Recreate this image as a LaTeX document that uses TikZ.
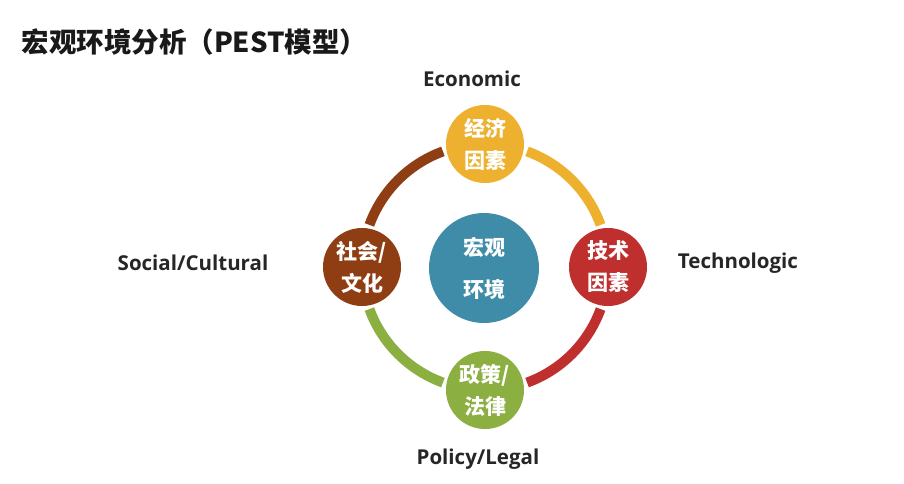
\documentclass[tikz,border=0pt]{standalone}
\usepackage{fontspec}
\setmainfont{Open Sans}
\newfontfamily\cjk{Noto Sans CJK SC}
\usetikzlibrary{calc}
\definecolor{ecoY}{HTML}{EDB12F}
\definecolor{socB}{HTML}{8E3E12}
\definecolor{tecR}{HTML}{BE2F2E}
\definecolor{polG}{HTML}{8CAF42}
\definecolor{midB}{HTML}{3F8CA8}
\tikzset{
  factor/.style={circle, minimum size=78pt, inner sep=0pt, text=white, align=center,
    font=\cjk\bfseries\fontsize{21}{32}\selectfont},
  core/.style={circle, minimum size=110pt, inner sep=0pt, text=white, align=center,
    font=\cjk\bfseries\fontsize{21}{42}\selectfont},
  ring/.style={line width=10pt},
  label/.style={font=\bfseries\fontsize{20.5}{24}\selectfont, text=black!85},
  title/.style={font=\cjk\bfseries\fontsize{27.5}{30}\selectfont, anchor=west, text=black!90}
}
\begin{document}
\begin{tikzpicture}[x=1pt,y=1pt]
\useasboundingbox (0,0) rectangle (904,483);
\fill[white] (0,0) rectangle (904,483);
\coordinate (C) at (485,216);
\def\R{123pt}
% ring arcs
\draw[ring, ecoY] ($(C)+(70:\R)$) arc[start angle=70, end angle=20, radius=\R];
\draw[ring, tecR] ($(C)+(-20:\R)$) arc[start angle=-20, end angle=-70, radius=\R];
\draw[ring, polG] ($(C)+(-110:\R)$) arc[start angle=-110, end angle=-160, radius=\R];
\draw[ring, socB] ($(C)+(160:\R)$) arc[start angle=160, end angle=110, radius=\R];
% circles
\node[factor, fill=ecoY] (eco) at ($(C)+(90:\R)$) {经济\\因素};
\node[factor, fill=tecR] (tec) at ($(C)+(0:\R)$) {技术\\因素};
\node[factor, fill=polG] (pol) at ($(C)+(-90:\R)$) {政策/\\法律};
\node[factor, fill=socB] (soc) at ($(C)+(180:\R)$) {社会/\\文化};
\node[core, fill=midB] (mid) at (484,215) {宏观\\环境};
% labels
\node[label] (ecoL) at (472,404) {Economic};
\node[label] (tecL) at (738,220) {Technologic};
\node[label] (socL) at (193,220) {Social/Cultural};
\node[label] (polL) at (478,24) {Policy/Legal};
% title
\node[title] (ttl) at (18,441) {宏观环境分析（PEST模型）};
\end{tikzpicture}
\end{document}
